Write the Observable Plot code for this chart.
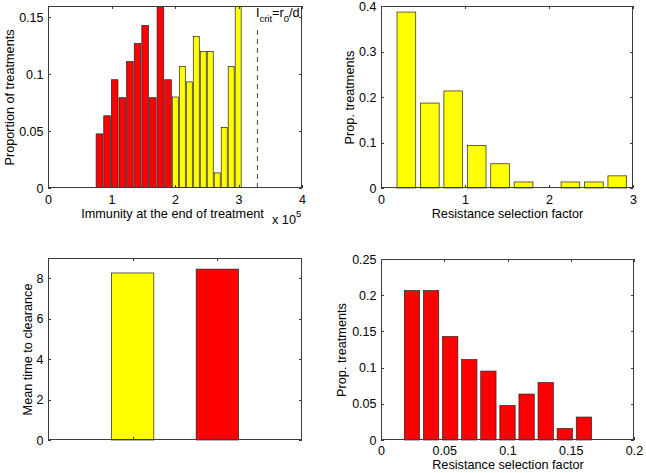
<!DOCTYPE html>
<html>
<head>
<meta charset="utf-8">
<script src="https://cdn.jsdelivr.net/npm/d3@7"></script>
<script src="https://cdn.jsdelivr.net/npm/@observablehq/plot@0.6"></script>
<style>
  body { margin: 0; background: #fff; }
  #fig { position: relative; width: 646px; height: 473px; background: #fff; overflow: hidden; }
  .panel { position: absolute; }
</style>
</head>
<body>
<div id="fig"></div>
<script>
// ---------------- DATA ----------------
// Panel A: immunity at end of treatment (x 10^5), histogram proportions
const immRedCenters = [0.81, 0.93, 1.05, 1.17, 1.29, 1.41, 1.53, 1.65, 1.77, 1.89];
const immRedProp = [0.0476, 0.0635, 0.0952, 0.0794, 0.1111, 0.1270, 0.1429, 0.0794, 0.1587, 0.0952];
const immRedBinWidth = 0.12;
const immYellowCenters = [2.005, 2.115, 2.225, 2.335, 2.445, 2.555, 2.665, 2.775, 2.885, 2.995];
const immYellowProp = [0.0800, 0.1067, 0.0933, 0.1333, 0.1200, 0.1200, 0.0133, 0.0533, 0.1067, 0.1733];
const immYellowBinWidth = 0.11;
const iCrit = 3.29;
const iCritLineTop = 0.14;
const immXTicks = [0, 1, 2, 3, 4];
const immYTicks = [0, 0.05, 0.1, 0.15];

// Panel B: resistance selection factor, yellow group
const rsYellowCenters = [0.302, 0.581, 0.860, 1.139, 1.418, 1.697, 1.976, 2.255, 2.534, 2.813];
const rsYellowProp = [0.3867, 0.1867, 0.2133, 0.0933, 0.0533, 0.0133, 0, 0.0133, 0.0133, 0.0267];
const rsYellowBarWidth = 0.223;
const rsYXTicks = [0, 1, 2, 3];
const rsYYTicks = [0, 0.1, 0.2, 0.3, 0.4];

// Panel C: mean time to clearance
const clearPos = [1, 2];
const clearMean = [8.26, 8.45];
const clearColors = ["#ffff00", "#ff0000"];
const clearBarWidth = 0.5;
const clearXTicks = [1, 2];
const clearYTicks = [0, 2, 4, 6, 8];

// Panel D: resistance selection factor, red group
const rsRedCenters = [0.0245, 0.0396, 0.0547, 0.0698, 0.0849, 0.1000, 0.1151, 0.1302, 0.1453, 0.1604];
const rsRedProp = [0.2063, 0.2063, 0.1429, 0.1111, 0.0952, 0.0476, 0.0635, 0.0794, 0.0159, 0.0317];
const rsRedBarWidth = 0.0121;
const rsRXTicks = [0, 0.05, 0.1, 0.15, 0.2];
const rsRYTicks = [0, 0.05, 0.1, 0.15, 0.2, 0.25];

// ---------------- HELPERS ----------------
const FONT = '"Liberation Sans", Arial, Helvetica, sans-serif';
const AXIS = "#3c3c3c";
const EDGE = "#222";

function bars(centers, values, width, fill, extra = {}) {
  const rows = centers.map((c, i) => ({x1: c - width / 2, x2: c + width / 2, y: values[i]}));
  return Plot.rect(rows, {x1: "x1", x2: "x2", y1: 0, y2: "y", fill, stroke: EDGE, strokeWidth: 0.7, ...extra});
}

function panel(o) {
  const marks = [
    ...o.marks,
    Plot.text([o.yLabel], {frameAnchor: "left", textAnchor: "middle", lineAnchor: "middle", rotate: -90, dx: o.yLabelDx, text: d => d, fontSize: 12.7, fill: "#000"})
  ];
  if (o.xLabel) marks.push(Plot.text([o.xLabel], {frameAnchor: "bottom", textAnchor: "middle", lineAnchor: "middle", dy: o.xLabelDy, dx: o.xLabelDx || 0, text: d => d, fontSize: 12.7, fill: "#000"}));
  const plot = Plot.plot({
    width: o.width,
    height: o.height,
    marginLeft: o.mL, marginRight: o.mR, marginTop: o.mT, marginBottom: o.mB,
    style: {fontFamily: FONT, fontSize: "12.5px", color: "#000", background: "transparent", overflow: "visible"},
    x: o.xAxis === false
      ? {domain: o.xDomain, axis: null}
      : {domain: o.xDomain, ticks: o.xTicks, tickSize: 0, tickPadding: o.xTickPad || 7, tickFormat: d => String(d), label: null},
    y: {domain: o.yDomain, ticks: o.yTicks, tickSize: 0, tickPadding: 5, tickFormat: d => String(d), label: null},
    marks
  });
  // MATLAB-style box with inward ticks on all four sides, placed with Plot's own scales
  const sx = plot.scale("x"), sy = plot.scale("y");
  const L = Math.min(...sx.range), R = Math.max(...sx.range);
  const T = Math.min(...sy.range), B = Math.max(...sy.range);
  const g = d3.select(plot).append("g").attr("stroke", AXIS).attr("fill", "none").attr("stroke-width", 1);
  const tl = 3;
  for (const v of o.xTicks) {
    const px = Math.round(sx.apply(v)) + 0.5;
    g.append("line").attr("x1", px).attr("x2", px).attr("y1", B).attr("y2", B - tl);
    g.append("line").attr("x1", px).attr("x2", px).attr("y1", T).attr("y2", T + tl);
  }
  for (const v of o.yTicks) {
    const py = Math.round(sy.apply(v)) + 0.5;
    g.append("line").attr("x1", L).attr("x2", L + tl).attr("y1", py).attr("y2", py);
    g.append("line").attr("x1", R).attr("x2", R - tl).attr("y1", py).attr("y2", py);
  }
  g.append("rect").attr("x", L + 0.5).attr("y", T + 0.5).attr("width", R - L - 1).attr("height", B - T - 1);

  const div = document.createElement("div");
  div.className = "panel";
  div.style.left = o.left + "px";
  div.style.top = o.top + "px";
  div.appendChild(plot);
  document.getElementById("fig").appendChild(div);
  return plot;
}

// ---------------- PANEL A ----------------
const pA = panel({
  left: 0, top: 0, width: 323, height: 236, mL: 48, mR: 21, mT: 6, mB: 48,
  xDomain: [0, 4], yDomain: [0, 0.16], xTicks: immXTicks, yTicks: immYTicks,
  yLabel: "Proportion of treatments", yLabelDx: -39,
  xLabel: "Immunity at the end of treatment", xLabelDy: 25, xLabelDx: -3,
  marks: [
    bars(immRedCenters, immRedProp, immRedBinWidth, "#ff0000", {clip: true, insetLeft: 0.5, insetRight: 0.5}),
    bars(immYellowCenters, immYellowProp, immYellowBinWidth, "#ffff00", {clip: true, insetLeft: 0.5, insetRight: 0.5}),
    Plot.ruleX([iCrit], {x: d => d, y1: 0, y2: iCritLineTop, stroke: "#444", strokeDasharray: "5,4", strokeWidth: 1})
  ]
});
{
  const svg = d3.select(pA);
  const xc = pA.scale("x").apply(iCrit);
  const t = svg.append("text").attr("x", xc - 1).attr("y", 17).attr("text-anchor", "start")
    .attr("font-family", FONT).attr("font-size", 12.7).attr("fill", "#000");
  t.append("tspan").text("I");
  t.append("tspan").attr("font-size", 9.5).attr("dy", 5).text("crit");
  t.append("tspan").attr("dy", -5).text("=r");
  t.append("tspan").attr("font-size", 9.5).attr("dy", 5).text("0");
  t.append("tspan").attr("dy", -5).text("/d");
  const m = svg.append("text").attr("x", 272).attr("y", 224).attr("text-anchor", "start")
    .attr("font-family", FONT).attr("font-size", 12.7).attr("fill", "#000");
  m.append("tspan").text("x 10");
  m.append("tspan").attr("font-size", 9.5).attr("dy", -7).text("5");
}

// ---------------- PANEL B ----------------
panel({
  left: 323, top: 0, width: 323, height: 236, mL: 58, mR: 13, mT: 6, mB: 48,
  xDomain: [0, 3], yDomain: [0, 0.4], xTicks: rsYXTicks, yTicks: rsYYTicks,
  yLabel: "Prop. treatments", yLabelDx: -32,
  xLabel: "Resistance selection factor", xLabelDy: 25,
  marks: [bars(rsYellowCenters, rsYellowProp, rsYellowBarWidth, "#ffff00")]
});

// ---------------- PANEL C ----------------
{
  const rows = clearPos.map((p, i) => ({x1: p - clearBarWidth / 2, x2: p + clearBarWidth / 2, y: clearMean[i], c: clearColors[i]}));
  panel({
    left: 0, top: 236, width: 323, height: 237, mL: 48, mR: 21, mT: 22, mB: 33,
    xDomain: [0, 3], yDomain: [0, 9], xTicks: clearXTicks, yTicks: clearYTicks, xAxis: false,
    yLabel: "Mean time to clearance", yLabelDx: -20.5,
    marks: [Plot.rect(rows, {x1: "x1", x2: "x2", y1: 0, y2: "y", fill: d => d.c, stroke: EDGE, strokeWidth: 0.7})]
  });
}

// ---------------- PANEL D ----------------
panel({
  left: 323, top: 236, width: 323, height: 237, mL: 58, mR: 12, mT: 23, mB: 33,
  xDomain: [0, 0.2], yDomain: [0, 0.25], xTicks: rsRXTicks, yTicks: rsRYTicks, xTickPad: 6,
  yLabel: "Prop. treatments", yLabelDx: -39.5,
  xLabel: "Resistance selection factor", xLabelDy: 24,
  marks: [bars(rsRedCenters, rsRedProp, rsRedBarWidth, "#ff0000")]
});
</script>
</body>
</html>
